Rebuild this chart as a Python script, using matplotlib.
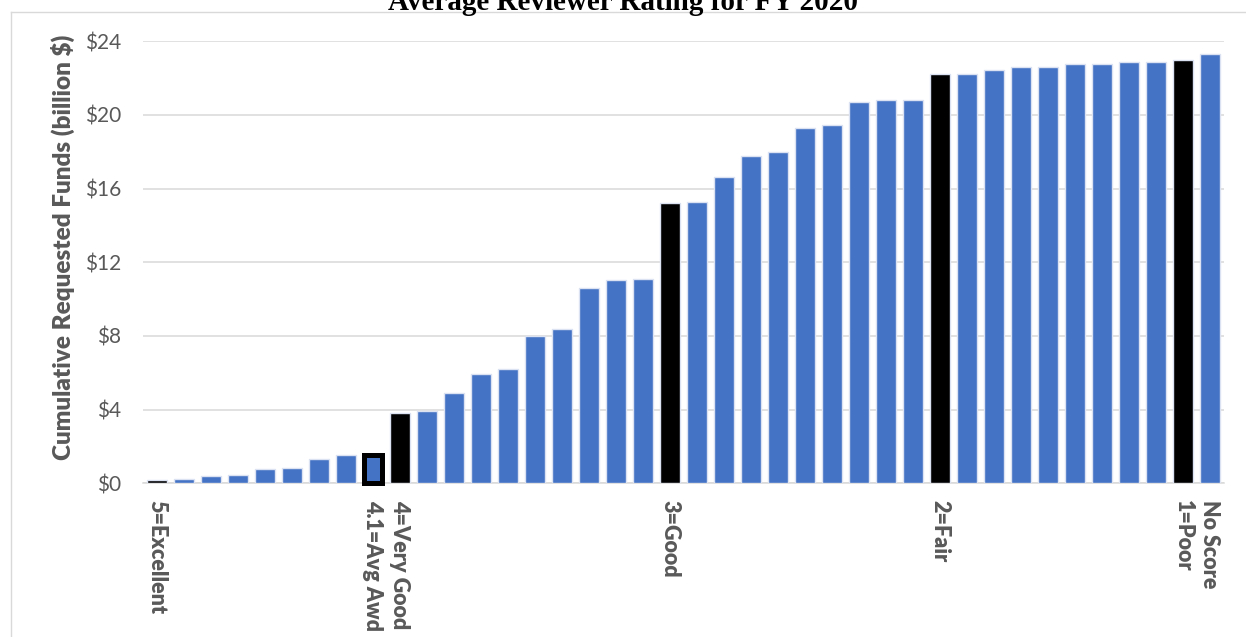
import matplotlib
matplotlib.use("Agg")
import matplotlib.pyplot as plt
from matplotlib.lines import Line2D

# ---------------- data ----------------
cum_funds = [0.18, 0.24, 0.40, 0.45, 0.78, 0.83, 1.32, 1.54, 1.55, 3.84,
             3.93, 4.88, 5.92, 6.19, 8.02, 8.38, 10.60, 11.02, 11.08, 15.20,
             15.27, 16.63, 17.77, 18.00, 19.30, 19.48, 20.73, 20.82, 20.82, 22.22,
             22.22, 22.45, 22.61, 22.61, 22.79, 22.79, 22.88, 22.88, 22.97, 23.32]
tick_labels = {0: "5=Excellent", 8: "4.1=Avg Awd", 9: "4=Very Good",
               19: "3=Good", 29: "2=Fair", 38: "1=Poor", 39: "No Score"}
score_bars = [0, 9, 19, 29, 38]       # whole-score markers (black)
avg_award_bar = 8                     # average award marker (outlined)
y_ticks = [0, 4, 8, 12, 16, 20, 24]
title = "Average Reviewer Rating for FY 2020"
ylabel = "Cumulative Requested Funds (billion $)"

# ---------------- styling ----------------
BLUE = "#4472C4"
GRAY_TXT = "#595959"
GRID = "#d9d9d9"
W, H, DPI = 1246, 637, 100

fig = plt.figure(figsize=(W / DPI, H / DPI), dpi=DPI)
ax = fig.add_axes([143 / W, 1 - 483.3 / H, (1224 - 143) / W, (483.3 - 41.3) / H])

x = list(range(len(cum_funds)))
colors = ["black" if i in score_bars else BLUE for i in x]
bars = ax.bar(x, cum_funds, width=0.72, color=colors, edgecolor="#dbe3f3",
              linewidth=1.0, zorder=3)
b = bars[avg_award_bar]
b.set_edgecolor("black")
b.set_linewidth(3.6)
b.set_width(0.68)
b.set_x(avg_award_bar - 0.34)
b.set_clip_on(False)
b.set_zorder(4)

ax.set_xlim(-0.52, len(cum_funds) - 0.48)
ax.set_ylim(0, 24)
ax.set_yticks(y_ticks)
ax.set_yticklabels([f"${v}" for v in y_ticks])
ax.yaxis.grid(True, color=GRID, linewidth=1.1, zorder=0)
ax.set_axisbelow(True)
for s in ["top", "right", "left"]:
    ax.spines[s].set_visible(False)
ax.spines["bottom"].set_color(GRID)
ax.spines["bottom"].set_linewidth(1.1)
ax.tick_params(axis="y", length=0, pad=16, labelsize=15, labelcolor=GRAY_TXT)
ax.tick_params(axis="x", length=0, pad=12)
for lab in ax.get_yticklabels():
    lab.set_fontfamily("Lato")

ax.set_xticks(list(tick_labels.keys()))
ax.set_xticklabels(list(tick_labels.values()), rotation=-90, fontsize=15.5,
                   fontweight="heavy", color=GRAY_TXT, fontfamily="Lato",
                   va="top", ha="center")

fig.text(63 / W, 1 - 247 / H, ylabel, rotation=90, ha="center", va="center",
         fontsize=17.5, fontweight="heavy", color=GRAY_TXT, fontfamily="Lato")

fig.text(0.5, 1 - 10 / H, title, ha="center", va="baseline", fontsize=21,
         fontweight="bold", fontfamily="Liberation Serif", color="black")

# chart frame (top and left edges visible)
fig.add_artist(Line2D([10.5 / W, 1.0], [1 - 12 / H, 1 - 12 / H],
                      transform=fig.transFigure, color="#d9d9d9", linewidth=1.0))
fig.add_artist(Line2D([10.5 / W, 10.5 / W], [0, 1 - 12 / H],
                      transform=fig.transFigure, color="#d9d9d9", linewidth=1.0))

fig.savefig("out.png", dpi=DPI)
